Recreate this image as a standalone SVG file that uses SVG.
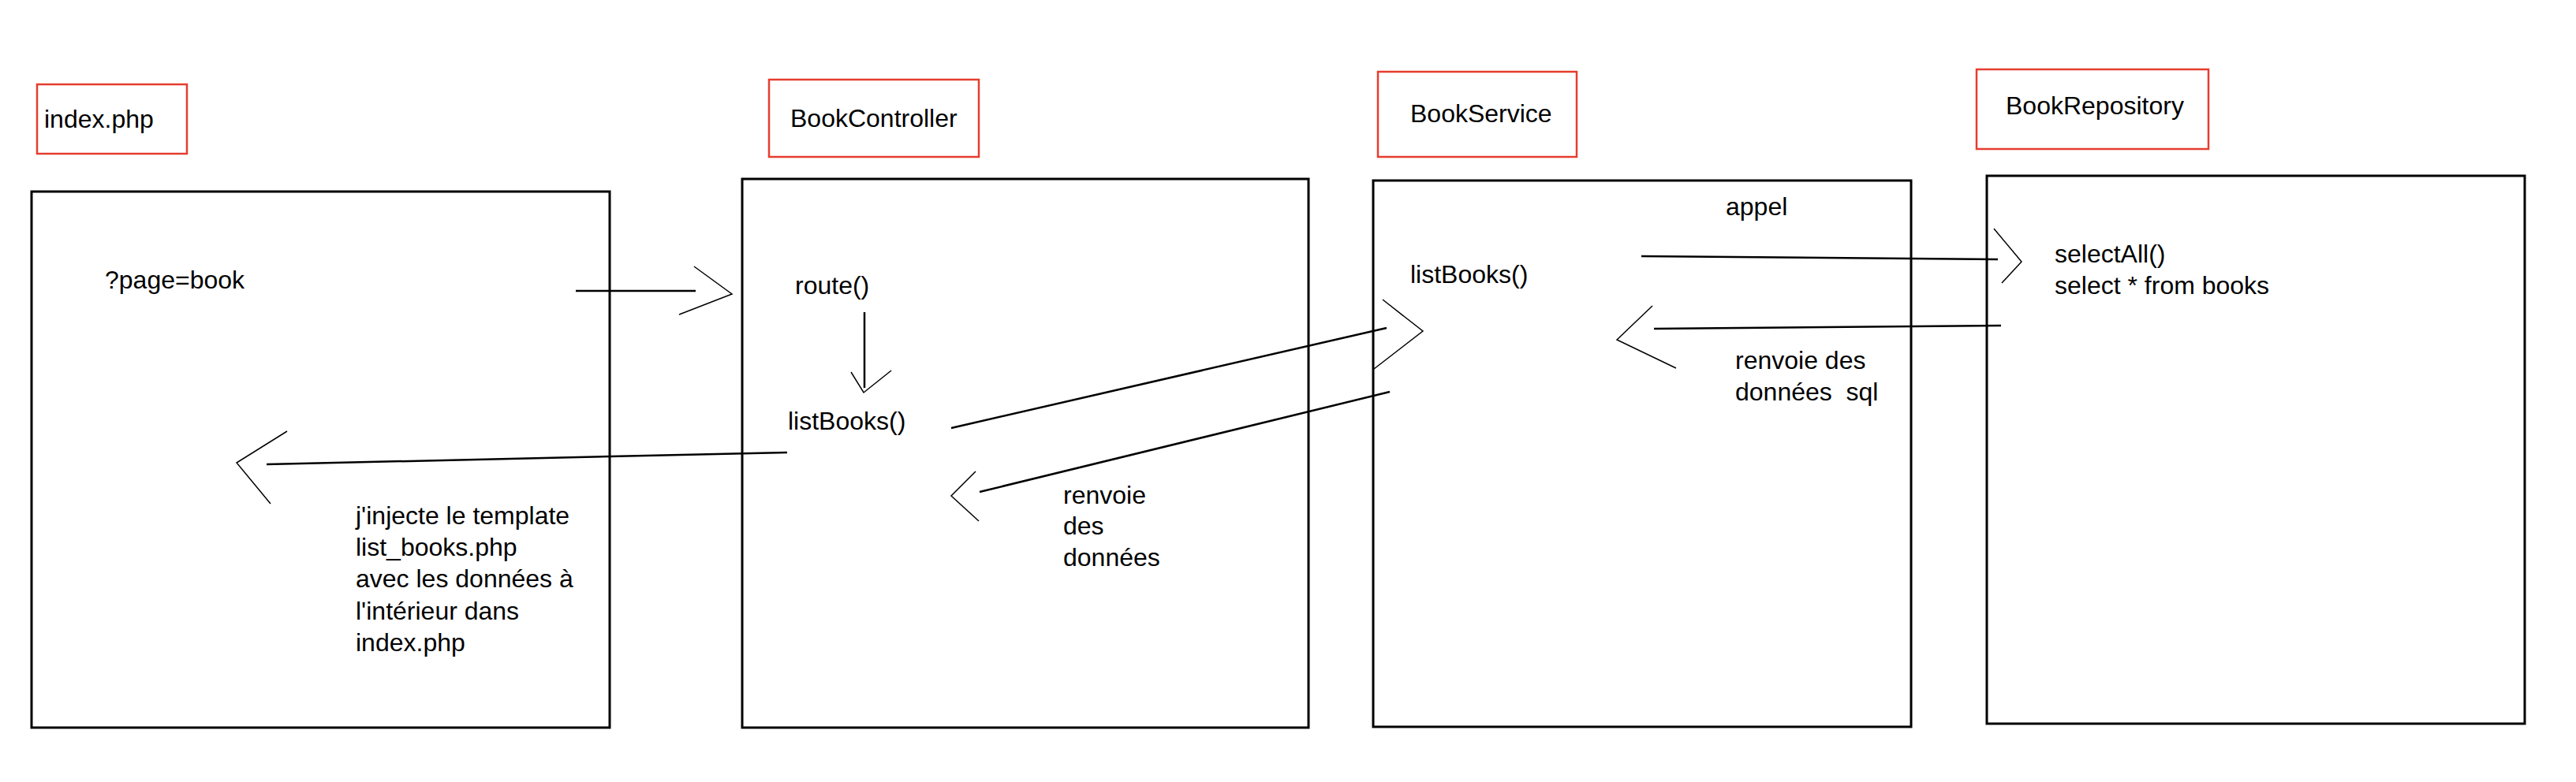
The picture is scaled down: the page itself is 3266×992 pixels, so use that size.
<svg xmlns="http://www.w3.org/2000/svg" width="3266" height="992" viewBox="0 0 3266 992">
<style>
.bg{fill:#ffffff}
.lbl{fill:none;stroke:#e53d2f;stroke-width:2.5}
.box{fill:none;stroke:#000;stroke-width:3}
.t{font-family:"Liberation Sans",Arial,sans-serif;font-size:32px;fill:#000}
.ln{fill:none;stroke:#000;stroke-width:2.5}
.ah{fill:none;stroke:#000;stroke-width:1.5}
</style>
<rect class="bg" x="0" y="0" width="3266" height="992"/>
<g id="index">
<rect class="lbl" x="47" y="107" width="190" height="88"/>
<text class="t" x="56" y="162">index.php</text>
<rect class="box" x="40" y="243" width="733" height="680"/>
<text class="t" x="133" y="366">?page=book</text>
<text class="t" x="451"><tspan x="451" y="665">j'injecte le template</tspan><tspan x="451" y="705">list_books.php</tspan><tspan x="451" y="745">avec les données à</tspan><tspan x="451" y="786">l'intérieur dans</tspan><tspan x="451" y="826">index.php</tspan></text>
</g>
<g id="controller">
<rect class="lbl" x="975" y="101" width="266" height="98"/>
<text class="t" x="1002" y="161">BookController</text>
<rect class="box" x="941" y="227" width="718" height="696"/>
<text class="t" x="1008" y="373">route()</text>
<text class="t" x="999" y="545">listBooks()</text>
<text class="t" x="1348"><tspan x="1348" y="639">renvoie</tspan><tspan x="1348" y="678">des</tspan><tspan x="1348" y="718">données</tspan></text>
</g>
<g id="service">
<rect class="lbl" x="1747" y="91" width="252" height="108"/>
<text class="t" x="1788" y="155">BookService</text>
<rect class="box" x="1741" y="229" width="682" height="693"/>
<text class="t" x="1788" y="359">listBooks()</text>
<text class="t" x="2188" y="273">appel</text>
<text class="t" x="2200" xml:space="preserve" style="white-space:pre"><tspan x="2200" y="468">renvoie des</tspan><tspan x="2200" y="508">données  sql</tspan></text>
</g>
<g id="repository">
<rect class="lbl" x="2506" y="88" width="294" height="101"/>
<text class="t" x="2543" y="145">BookRepository</text>
<rect class="box" x="2519" y="223" width="682" height="695"/>
<text class="t" x="2605"><tspan x="2605" y="333">selectAll()</tspan><tspan x="2605" y="373">select * from books</tspan></text>
</g>
<g id="connectors">
<line class="ln" x1="730" y1="369" x2="882" y2="369"/>
<polyline class="ah" points="880,338 928,373 861,399"/>
<line class="ln" x1="1096" y1="396" x2="1096" y2="492"/>
<polyline class="ah" points="1079,472 1095,498 1130,470"/>
<line class="ln" x1="1206" y1="543" x2="1758" y2="416"/>
<polyline class="ah" points="1753,380 1804,420 1742,468"/>
<line class="ln" x1="1762" y1="497" x2="1242" y2="624"/>
<polyline class="ah" points="1237,598 1206,629 1241,661"/>
<line class="ln" x1="998" y1="574" x2="338" y2="589"/>
<polyline class="ah" points="364,547 300,587 343,639"/>
<line class="ln" x1="2081" y1="325" x2="2533" y2="329"/>
<polyline class="ah" points="2528,290 2563,332 2538,359"/>
<line class="ln" x1="2537" y1="413" x2="2097" y2="417"/>
<polyline class="ah" points="2095,388 2050,431 2125,467"/>
</g>
</svg>
